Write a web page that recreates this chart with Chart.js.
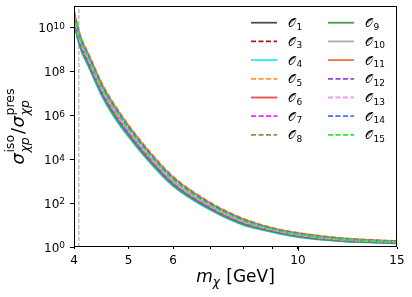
<!DOCTYPE html>
<html><head><meta charset="utf-8">
<script src="https://cdn.jsdelivr.net/npm/chart.js@4.4.1/dist/chart.umd.min.js"></script>
<style>html,body{margin:0;padding:0;background:#fff}canvas{display:block}</style>
</head><body>
<canvas id="c" width="412" height="297"></canvas>
<script>
// m_chi [GeV]
const mChi = [4.0, 4.1, 4.25, 4.5, 4.75, 5.0, 5.5, 6.0, 7.0, 8.0, 9.0, 10.0, 12.0, 15.0];
// sigma_iso / sigma_pres per operator
const O1  = [1.95e10, 1.55e9, 1.95e8, 7.76e6, 7.76e5, 1.29e5, 6683, 692, 53.7, 11.09, 5.13, 3.02, 1.91, 1.53];
const O3  = [2.09e10, 1.66e9, 2.09e8, 8.32e6, 8.32e5, 1.36e5, 7079, 733, 55.6, 11.48, 5.25, 3.09, 1.93, 1.55];
const O4  = [1.58e10, 1.26e9, 1.58e8, 6.31e6, 6.31e5, 1.06e5, 5623, 596, 47.3, 10.0, 4.79, 2.82, 1.80, 1.48];
const O5  = [6.31e10, 5.01e9, 6.31e8, 2.51e7, 2.51e6, 3.76e5, 1.78e4, 1679, 105.9, 19.95, 7.59, 4.47, 2.54, 1.86];
const O6  = [2.24e10, 1.78e9, 2.24e8, 8.91e6, 8.91e5, 1.45e5, 7499, 776, 57.5, 11.89, 5.37, 3.16, 1.95, 1.57];
const O7  = [2.75e10, 2.19e9, 2.75e8, 1.10e7, 1.10e6, 1.76e5, 8913, 902, 65.3, 13.18, 5.75, 3.39, 2.07, 1.62];
const O8  = [4.47e10, 3.55e9, 4.47e8, 1.78e7, 1.78e6, 2.75e5, 1.33e4, 1288, 87.1, 16.79, 6.76, 3.98, 2.34, 1.76];
const O9  = [1.82e10, 1.45e9, 1.82e8, 7.24e6, 7.24e5, 1.20e5, 6310, 661, 51.3, 10.72, 5.01, 2.95, 1.86, 1.51];
const O10 = [3.39e10, 2.69e9, 3.39e8, 1.35e7, 1.35e6, 2.14e5, 1.06e4, 1047, 74.1, 14.62, 6.17, 3.63, 2.19, 1.68];
const O11 = [5.50e10, 4.37e9, 5.50e8, 2.19e7, 2.19e6, 3.31e5, 1.58e4, 1514, 97.7, 18.62, 7.24, 4.27, 2.45, 1.82];
const O12 = [2.40e10, 1.91e9, 2.40e8, 9.55e6, 9.55e5, 1.55e5, 7943, 813, 60.3, 12.30, 5.50, 3.24, 2.00, 1.585];
const O13 = [3.16e10, 2.51e9, 3.16e8, 1.26e7, 1.26e6, 2.00e5, 1.00e4, 1000, 70.8, 14.13, 6.03, 3.55, 2.14, 1.66];
const O14 = [5.13e10, 4.07e9, 5.13e8, 2.04e7, 2.04e6, 3.09e5, 1.50e4, 1445, 93.3, 17.99, 7.08, 4.17, 2.40, 1.80];
const O15 = [3.89e10, 3.09e9, 3.89e8, 1.55e7, 1.55e6, 2.40e5, 1.19e4, 1175, 79.4, 15.67, 6.46, 3.80, 2.24, 1.72];

const opIndex = ['1','3','4','5','6','7','8','9','10','11','12','13','14','15'];
const series  = [O1, O3, O4, O5, O6, O7, O8, O9, O10, O11, O12, O13, O14, O15];
const colors  = ['#505050','#9b1c1c','#22eeee','#ff9a2e','#f24848','#ff22ff','#7a9a40',
                 '#4a9a4a','#aaaaaa','#ee7733','#9a45e0','#f09af0','#4a72e0','#22ee22'];
const dashed  = [false,true,false,true,false,true,true,false,false,false,true,true,true,true];

const xTicks = [4, 5, 6, 7, 8, 9, 10, 15];
const xTickLabels = ['4','5','6','','','','10','15'];
const yTicks = [1, 1e2, 1e4, 1e6, 1e8, 1e10];
const yTickExps = ['0','2','4','6','8','10'];
const thresholdX = [4.08];
const yRange = [1, 1e11];

const FF = '"DejaVu Sans", sans-serif';

const datasets = series.map((vals, i) => ({
  label: '𝒪' + opIndex[i],
  data: mChi.map((m, j) => ({x: m, y: vals[j]})),
  borderColor: colors[i],
  borderWidth: 1.8,
  borderDash: dashed[i] ? [5, 2.5] : [],
  pointRadius: 0,
  fill: false,
  cubicInterpolationMode: 'monotone',
  order: 100 - i
}));
datasets.push({
  label: 'threshold',
  data: [{x: thresholdX[0], y: yRange[0]}, {x: thresholdX[0], y: yRange[1]}],
  borderColor: '#b3b3b3', borderWidth: 1.3, borderDash: [4, 2],
  pointRadius: 0, fill: false, order: 1000
});

function drawScripted(ctx, x, y, parts) {
  let cx = x;
  for (const p of parts) {
    if (p.stack) {
      ctx.font = p.font;
      const w1 = ctx.measureText(p.sup).width;
      ctx.fillText(p.sup, cx, y + p.supDy);
      ctx.font = p.subFont || p.font;
      const w2 = ctx.measureText(p.sub).width;
      ctx.fillText(p.sub, cx, y + p.subDy);
      cx += Math.max(w1, w2) + (p.gap || 0);
    } else {
      ctx.font = p.font;
      ctx.fillText(p.t, cx, y + (p.dy || 0));
      cx += ctx.measureText(p.t).width + (p.gap || 0);
    }
  }
  return cx;
}
function measureParts(ctx, parts) {
  let w = 0;
  for (const p of parts) {
    if (p.stack) {
      ctx.font = p.font; const w1 = ctx.measureText(p.sup).width;
      ctx.font = p.subFont || p.font; const w2 = ctx.measureText(p.sub).width;
      w += Math.max(w1, w2) + (p.gap || 0);
    } else { ctx.font = p.font; w += ctx.measureText(p.t).width + (p.gap || 0); }
  }
  return w;
}

const deco = {
  id: 'deco',
  afterDraw(chart) {
    const ctx = chart.ctx, a = chart.chartArea, xs = chart.scales.x, ys = chart.scales.y;
    ctx.save();
    ctx.fillStyle = '#000'; ctx.strokeStyle = '#000';
    // frame
    ctx.lineWidth = 1; ctx.setLineDash([]);
    ctx.strokeRect(Math.round(a.left) + 0.5, Math.round(a.top) + 0.5,
                   Math.round(a.right - a.left) - 1, Math.round(a.bottom - a.top) - 1);
    // longer tick for decade 10
    const p10 = Math.round(xs.getPixelForValue(10)) + 0.5;
    ctx.beginPath(); ctx.moveTo(p10, a.bottom); ctx.lineTo(p10, a.bottom + 4); ctx.stroke();
    // y tick labels 10^n
    ctx.textAlign = 'left'; ctx.textBaseline = 'alphabetic';
    yTicks.forEach((v, i) => {
      const py = ys.getPixelForValue(v);
      ctx.font = '9px ' + FF; const we = ctx.measureText(yTickExps[i]).width;
      ctx.font = '12px ' + FF; const wb = ctx.measureText('10').width;
      const right = a.left - 9;
      const x0 = right - we - wb;
      ctx.fillText('10', x0, py + 4.5);
      ctx.font = '9px ' + FF;
      ctx.fillText(yTickExps[i], x0 + wb, py + 1.2);
    });
    // x title: m_chi [GeV]
    const xParts = [
      {t: 'm', font: 'italic 17px ' + FF},
      {t: 'χ', font: 'italic 12px ' + FF, dy: 4, gap: 1},
      {t: ' [GeV]', font: '17px ' + FF}
    ];
    const xw = measureParts(ctx, xParts);
    drawScripted(ctx, (a.left + a.right) / 2 - xw / 2, 282, xParts);
    // y title
    const yParts = [
      {t: 'σ', font: 'italic 18px ' + FF, gap: 0.5},
      {stack: true, sup: 'iso', sub: 'χp', font: '12.5px ' + FF, subFont: 'italic 12.5px ' + FF, supDy: -10, subDy: 5, gap: 1},
      {t: '/', font: '18px ' + FF, gap: 0.5},
      {t: 'σ', font: 'italic 18px ' + FF, gap: 0.5},
      {stack: true, sup: 'pres', sub: 'χp', font: '12.5px ' + FF, subFont: 'italic 12.5px ' + FF, supDy: -10, subDy: 5}
    ];
    const yw = measureParts(ctx, yParts);
    ctx.save();
    ctx.translate(24, (a.top + a.bottom) / 2);
    ctx.rotate(-Math.PI / 2);
    drawScripted(ctx, -yw / 2, 0, yParts);
    ctx.restore();
    // legend
    for (let i = 0; i < series.length; i++) {
      const col = Math.floor(i / 7), row = i % 7;
      const lx = col ? 328 : 251;
      const ly = 22.7 + row * 18.7;
      ctx.strokeStyle = colors[i]; ctx.lineWidth = 1.8;
      ctx.setLineDash(dashed[i] ? [5, 2.5] : []);
      ctx.beginPath(); ctx.moveTo(lx, ly); ctx.lineTo(lx + 26, ly); ctx.stroke();
      ctx.fillStyle = '#000';
      ctx.font = '12px ' + FF;
      ctx.fillText('𝒪', lx + 37, ly + 4.5);
      const wo = ctx.measureText('𝒪').width;
      ctx.font = '9px ' + FF;
      ctx.fillText(opIndex[i], lx + 37 + wo + 0.5, ly + 7);
    }
    ctx.restore();
  }
};

new Chart(document.getElementById('c'), {
  type: 'line',
  data: {datasets},
  options: {
    responsive: false, animation: false, devicePixelRatio: 1,
    layout: {padding: {top: 6, right: 15, left: 0, bottom: 0}},
    plugins: {legend: {display: false}, tooltip: {enabled: false}},
    scales: {
      x: {
        type: 'logarithmic', min: 4, max: 15,
        afterBuildTicks(s) { s.ticks = xTicks.map(v => ({value: v})); },
        afterFit(s) { s.height = 50; },
        ticks: {autoSkip: false, maxRotation: 0, minRotation: 0, padding: 5, color: '#000',
                font: {family: FF, size: 12}, callback: (v, i) => xTickLabels[i]},
        grid: {display: true, drawOnChartArea: false, drawTicks: true, tickLength: 2, tickColor: '#000', tickWidth: 1},
        border: {display: false}
      },
      y: {
        type: 'logarithmic', min: yRange[0], max: yRange[1],
        afterBuildTicks(s) { s.ticks = yTicks.map(v => ({value: v})); },
        afterFit(s) { s.width = 74; },
        ticks: {display: false},
        grid: {display: true, drawOnChartArea: false, drawTicks: true, tickLength: 4, tickColor: '#000', tickWidth: 1},
        border: {display: false}
      }
    }
  },
  plugins: [deco]
});
</script>
</body></html>
